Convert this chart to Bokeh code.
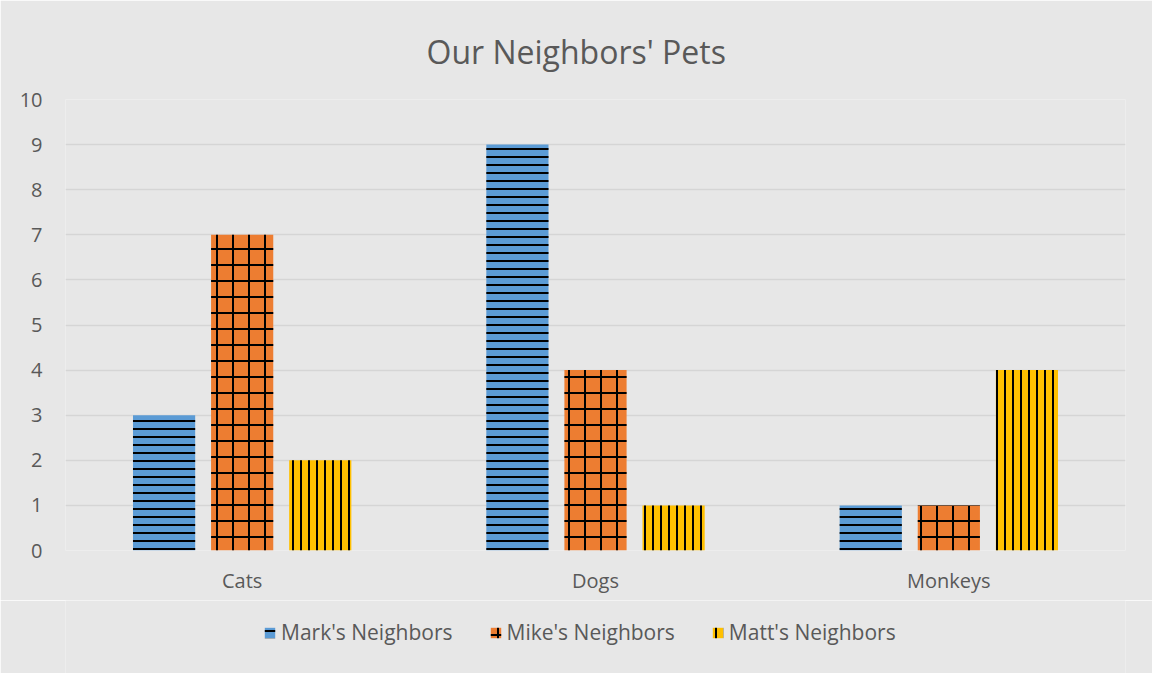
from bokeh.plotting import figure
from bokeh.models import ColumnDataSource, FactorRange, Legend, LegendItem, Range1d
from bokeh.layouts import column
from bokeh.transform import dodge
from bokeh.embed import file_html
from bokeh.resources import INLINE

categories = ["Cats", "Dogs", "Monkeys"]
series_names = ["Mark's Neighbors", "Mike's Neighbors", "Matt's Neighbors"]
mark = [3, 9, 1]
mike = [7, 4, 1]
matt = [2, 1, 4]
y_ticks = [0, 1, 2, 3, 4, 5, 6, 7, 8, 9, 10]

colors = ["#5B9BD5", "#ED7D31", "#FFC000"]
hatches = ["horizontal_line", "cross", "vertical_line"]
hatch_scales = [8, 16, 8]
offsets = [-0.221, 0.0, 0.221]

source = ColumnDataSource(dict(cat=categories, mark=mark, mike=mike, matt=matt))

BG = "#E7E7E7"
TXT = "#595959"
FONT = "Open Sans"

p = figure(frame_width=1060, frame_height=451, x_range=FactorRange(*categories, range_padding=0),
           y_range=Range1d(0, 10), output_backend="svg", toolbar_location=None,
           min_border_left=65, min_border_right=27, min_border_top=99, min_border_bottom=50)
p.background_fill_color = BG
p.border_fill_color = BG
p.outline_line_color = None

p.title.text = "Our Neighbors' Pets"
p.title.align = "left"
p.title.offset = 361
p.title.text_font = FONT
p.title.text_font_size = "32px"
p.title.text_font_style = "normal"
p.title.text_color = TXT
p.title.standoff = 54

for col, c, h, hs, off in zip(["mark", "mike", "matt"], colors, hatches, hatch_scales, offsets):
    p.vbar(x=dodge("cat", off, range=p.x_range), top=col, width=0.176, source=source,
           fill_color=c, line_color=None, hatch_pattern=h, hatch_color="black",
           hatch_scale=hs, hatch_weight=2)

p.xgrid.grid_line_color = None
p.ygrid.grid_line_color = "#D5D5D5"
p.ygrid.grid_line_width = 1.3
p.yaxis.ticker = y_ticks

for ax in (p.xaxis, p.yaxis):
    ax.axis_line_color = None
    ax.major_tick_line_color = None
    ax.minor_tick_line_color = None
    ax.major_label_text_font = FONT
    ax.major_label_text_font_size = "20px"
    ax.major_label_text_color = TXT
p.yaxis.major_label_standoff = 17
p.xaxis.major_label_standoff = 10

# legend strip below the chart (same series, drawn outside its visible y range)
lg = figure(frame_width=1060, height=73, x_range=FactorRange(*categories, range_padding=0),
            y_range=Range1d(100, 101), output_backend="svg", toolbar_location=None,
            x_axis_location=None, y_axis_location=None,
            min_border_left=65, min_border_right=27, min_border_top=0, min_border_bottom=0)
lg.background_fill_color = BG
lg.border_fill_color = BG
lg.outline_line_color = None
lg.grid.visible = False

items = []
for name, col, c, h, hs, off in zip(series_names, ["mark", "mike", "matt"], colors, hatches,
                                     hatch_scales, offsets):
    r = lg.vbar(x=dodge("cat", off, range=lg.x_range), top=col, width=0.176, source=source,
                fill_color=c, line_color=None, hatch_pattern=h, hatch_color="black",
                hatch_scale=hs, hatch_weight=2)
    items.append(LegendItem(label=name, renderers=[r]))

legend = Legend(items=items, orientation="horizontal", location=(198, 27))
legend.background_fill_alpha = 0
legend.border_line_color = None
legend.label_text_font = FONT
legend.label_text_font_size = "21px"
legend.label_text_color = TXT
legend.glyph_width = 13
legend.glyph_height = 13
legend.spacing = 36
legend.label_standoff = 5
legend.padding = 0
legend.margin = 0
lg.add_layout(legend)

layout = column(p, lg, spacing=0)
open("out.html", "w").write(file_html(layout, INLINE))
